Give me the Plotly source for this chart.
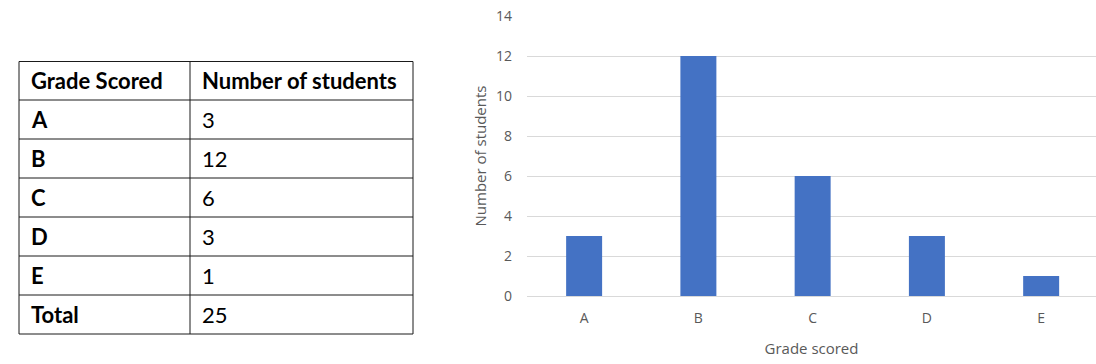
import plotly.graph_objects as go

grades = ["A", "B", "C", "D", "E"]
students = [3, 12, 6, 3, 1]
header_labels = ["Grade Scored", "Number of students"]
total_label = "Total"
x_title = "Grade scored"
y_title = "Number of students"
y_ticks = [0, 2, 4, 6, 8, 10, 12, 14]

W, H = 1096, 364

# table layout (pixels)
tbl_left, tbl_mid, tbl_right = 19, 190, 413
tbl_top, head_h, row_h = 61.5, 38.5, 39
pad = 10

fig = go.Figure()

fig.add_trace(go.Bar(
    x=grades, y=students,
    marker=dict(color="#4472C4", line=dict(width=0)),
    showlegend=False, hoverinfo="x+y",
))

# table rows built from the data
col1 = header_labels[:1] + grades + [total_label]
col2 = header_labels[1:] + [str(v) for v in students] + [str(sum(students))]
n_rows = len(col1)

def py(px):
    return 1 - px / H

def px_x(px):
    return px / W

shapes = []
annotations = []
row_edges = [tbl_top] + [tbl_top + head_h + i * row_h for i in range(n_rows)]
line_style = dict(color="#1a1a1a", width=1)
for yy in row_edges:
    shapes.append(dict(type="line", xref="paper", yref="paper",
                       x0=px_x(tbl_left), x1=px_x(tbl_right), y0=py(yy), y1=py(yy),
                       line=line_style))
for xx in (tbl_left, tbl_mid, tbl_right):
    shapes.append(dict(type="line", xref="paper", yref="paper",
                       x0=px_x(xx), x1=px_x(xx), y0=py(row_edges[0]), y1=py(row_edges[-1]),
                       line=line_style))

for i in range(n_rows):
    yc = (row_edges[i] + row_edges[i + 1]) / 2
    t1 = "<b>%s</b>" % col1[i]
    t2 = "<b>%s</b>" % col2[i] if i == 0 else col2[i]
    annotations.append(dict(xref="paper", yref="paper", x=px_x(tbl_left + pad), y=py(yc),
                            xanchor="left", yanchor="middle", text=t1, showarrow=False,
                            font=dict(family="Lato", size=22, color="black")))
    annotations.append(dict(xref="paper", yref="paper", x=px_x(tbl_mid + pad), y=py(yc),
                            xanchor="left", yanchor="middle", text=t2, showarrow=False,
                            font=dict(family="Lato", size=22, color="black")))

fig.update_layout(
    width=W, height=H,
    margin=dict(l=0, r=0, t=0, b=0, autoexpand=False),
    paper_bgcolor="white", plot_bgcolor="white",
    bargap=0.685,
    font=dict(family="Open Sans", color="#595959", size=14),
    shapes=shapes,
    annotations=annotations,
    xaxis=dict(
        domain=[527 / W, 1.0],
        range=[-0.5, 4.48],
        automargin=False,
        showgrid=False, showline=True, linecolor="#d9d9d9", linewidth=1,
        ticks="", ticklabelstandoff=9,
        tickfont=dict(size=14, color="#595959"),
        title=dict(text=x_title, font=dict(size=15, color="#595959"), standoff=17),
        fixedrange=True,
    ),
    yaxis=dict(
        domain=[1 - 296 / H, 1 - 16 / H],
        automargin=False,
        range=[0, 14], tickvals=y_ticks,
        showgrid=True, gridcolor="#d9d9d9", gridwidth=1,
        zeroline=False, showline=False, ticks="",
        ticklabelstandoff=14,
        tickfont=dict(size=14, color="#595959"),
        title=dict(text=y_title, font=dict(size=15, color="#595959"), standoff=5),
        fixedrange=True,
    ),
)

fig.write_html("out.html", config={"displayModeBar": False},
               post_script="document.body.style.margin='0';")
